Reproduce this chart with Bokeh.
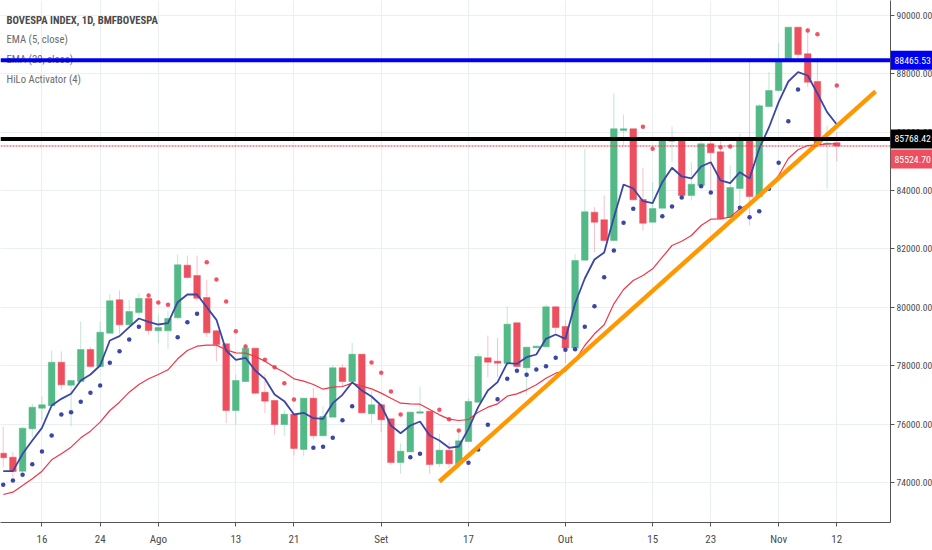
from bokeh.plotting import figure
from bokeh.models import Label, Span, FixedTicker, Range1d, ColumnDataSource
from bokeh.embed import file_html
from bokeh.resources import INLINE

opens = [75004,74867,74387,75840,76545,76627,78120,77332,77459,78555,77973,79114,80258,79401,79823,80302,79195,79195,79641,81443,81090,80336,79195,78751,76466,77459,78600,77093,76809,75986,76339,75131,76888,75600,76237,77929,77459,78394,76353,76662,76182,74685,75051,76374,76442,74641,75106,74641,75404,76750,78270,78155,78076,79470,77929,78614,78648,80018,79343,78607,81614,83258,82998,82289,86056,86114,83693,82915,83395,85690,85748,83830,84172,85600,85326,83087,84070,85738,83796,86878,87426,88419,89594,88683,87734,85587,85635]
highs = [75918,75038,75900,76706,76945,78521,78487,77494,79514,78634,79514,80463,80576,80258,80497,80463,79744,79891,81809,81775,81775,80943,79206,78751,77689,78751,78600,77699,76809,76490,76339,76888,77244,76614,78007,78042,78785,78394,77151,76672,76182,75346,76432,77288,76442,75668,75380,75722,76888,78428,79034,78955,80028,79480,78634,78692,80097,80028,79549,81809,85429,83429,83830,87334,86604,86114,84779,84285,85738,86193,85748,84970,85806,85806,85806,84857,85943,88454,86970,88053,89046,89594,89594,89574,88546,86227,85998]
lows = [74514,74182,74350,75552,76124,76569,77175,75918,77415,77949,77949,79093,79093,79367,79720,79059,78771,78566,79607,80977,80234,78977,78155,76031,75976,77435,77037,76374,75644,75600,74925,74890,75484,75576,76237,77264,77435,76363,76031,75722,74606,74298,75028,76363,74298,74525,74490,74469,75380,76716,77606,77606,78066,77949,77014,78600,78634,79114,78086,78590,81604,81888,82265,82265,85542,83669,82631,82915,83385,84970,83806,83659,84149,84001,83008,83066,83374,82803,83772,86844,87402,88419,88419,87539,85508,84059,85004]
closes = [74846,74377,75860,76580,76662,78120,77346,77494,78555,77973,79148,80223,79401,79857,80302,79206,79309,79617,81456,81021,80312,79127,78727,76466,77494,78600,77058,76785,75986,76339,75165,76888,75600,76261,77929,77459,78394,76387,76662,76147,74685,75072,76408,76422,74616,75106,74641,75428,76774,78315,78120,78086,79422,77973,78634,78668,80018,79309,78607,81604,83271,82915,82289,86114,86114,83683,82881,83385,85738,85748,83830,84217,85600,85292,83032,84104,85724,83796,86902,87426,88454,89594,88659,87710,85576,85621,85524.7]

ema5 = [74388,74388,74982,75438,75872,76637,76865,77037,77493,77699,78007,78863,79012,79320,79617,79503,79411,79457,80176,80439,80439,80005,79571,78521,78201,78270,77836,77551,77014,76786,76329,76386,76203,76180,76717,77003,77436,77151,76945,76637,75952,75689,75952,76089,75610,75438,75187,75233,75838,76580,77151,77436,78087,78064,78293,78384,78920,79069,78920,80131,80987,81638,81878,83076,84207,84070,83635,83566,84285,84779,84481,84412,84823,84970,84344,84251,84628,84412,85440,86159,87025,87734,88053,87940,87323,86683,86262]
ema20 = [73589,73669,73897,74126,74388,74776,74982,75210,75530,75758,76066,76466,76751,77094,77356,77551,77699,77859,78236,78521,78669,78704,78704,78544,78441,78430,78315,78156,77950,77779,77551,77471,77356,77196,77265,77288,77402,77299,77208,77060,76888,76717,76694,76682,76500,76317,76169,76123,76158,76409,76580,76694,76957,77037,77174,77345,77573,77744,77813,78178,78692,79093,79401,80120,80610,80918,81090,81319,81717,82117,82265,82460,82803,83018,83032,83087,83374,83546,83796,84114,84515,85097,85395,85542,85566,85600,85600]

hilo_index_up = [0,1,2,3,4,5,6,7,8,9,10,11,12,13,14,18,19,20,32,33,34,35,36,42,43,48,49,50,51,52,53,54,55,56,57,58,59,60,61,62,63,64,65,68,69,70,72,73,76,77,78,79,80,81,82]
hilo_up = [73920,74068,74262,74628,75062,75610,76329,76409,76763,77071,77322,78098,78498,78898,79332,78978,79491,79777,75187,75221,75530,76135,76614,74868,74982,74673,75130,75975,76854,77550,77824,77687,77870,77984,78270,78544,78567,79331,80039,81032,81946,82893,83373,83122,83453,83761,84149,83932,83407,83088,83293,84058,84948,86376,87460]
hilo_index_down = [15,16,17,21,22,23,24,25,27,28,29,30,38,39,40,41,45,46,47,66,67,74,75,83,84,86]
hilo_down = [80405,80165,80085,81546,80953,80199,79183,78658,78201,77950,77402,76843,78110,77756,77117,76329,76489,76169,75781,86182,85428,85485,85508,89481,89354,87597]

trend_index = [45, 90]
trend_price = [74034, 87392]
level_blue = 88465.53
level_black = 85768.42
level_red = 85524.70

x_tick_index = [4,10,16,24,30,39,48,58,67,73,80,86]
x_tick_labels = ["16","24","Ago","13","21","Set","17","Out","15","23","Nov","12"]
y_ticks = [74000,76000,78000,80000,82000,84000,86000,88000,90000]
legend_lines = ["BOVESPA INDEX, 1D, BMFBOVESPA","EMA (5, close)","EMA (20, close)","HiLo Activator (4)"]

GREEN, RED = "#53b987", "#ee4f5f"
BLUE, PINK = "#3b46a5", "#f0364a"
GRID = "#e9eff3"
AXIS = "#555555"
FONT = "Roboto Condensed"

W, H, FW, FH = 932, 550, 890, 522
Y_LOW, Y_HIGH = 72630, 90508
p = figure(width=W, height=H, output_backend="svg", toolbar_location=None,
           frame_width=FW, frame_height=FH,
           x_range=Range1d(-0.279, 91.54), y_range=Range1d(Y_LOW, Y_HIGH),
           y_axis_location="right",
           min_border_left=0, min_border_top=0, min_border_right=W-FW, min_border_bottom=H-FH,
           background_fill_color="white", outline_line_color=None,
           styles={"position": "absolute", "left": "0px", "top": "0px"})

p.xgrid.ticker = FixedTicker(ticks=x_tick_index)
p.ygrid.ticker = FixedTicker(ticks=y_ticks)
p.xgrid.grid_line_color = GRID
p.ygrid.grid_line_color = GRID

p.xaxis.ticker = FixedTicker(ticks=x_tick_index)
p.xaxis.major_label_overrides = dict(zip(x_tick_index, x_tick_labels))
p.yaxis.ticker = FixedTicker(ticks=y_ticks)
p.yaxis.major_label_overrides = {v: f"{v:.2f}" for v in y_ticks}
for ax, size, stand in ((p.xaxis[0], "11px", 6), (p.yaxis[0], "9.6px", 2)):
    ax.axis_line_color = AXIS
    ax.major_tick_line_color = AXIS
    ax.minor_tick_line_color = None
    ax.major_tick_in = 0
    ax.major_tick_out = 4
    ax.major_label_text_color = "#4a4a4a"
    ax.major_label_text_font = FONT
    ax.major_label_text_font_size = size
    ax.major_label_standoff = stand

idx = list(range(len(opens)))
up = [c >= o for o, c in zip(opens, closes)]
src = ColumnDataSource(dict(
    x=idx, h=highs, l=lows,
    top=[max(o, c) for o, c in zip(opens, closes)],
    bot=[min(o, c) for o, c in zip(opens, closes)],
    color=[GREEN if u else RED for u in up]))

p.segment("x", "h", "x", "l", source=src, color="color", line_width=1, line_alpha=0.35)
p.vbar("x", 0.68, "bot", "top", source=src, fill_color="color", line_color="color", line_width=0.5)
p.line(idx, ema20, color=PINK, line_width=1.2)
p.line(idx, ema5, color=BLUE, line_width=1.8)
p.scatter(hilo_index_up, hilo_up, size=4.5, color=BLUE, line_width=0)
p.scatter(hilo_index_down, hilo_down, size=4.5, color=PINK, line_width=0, alpha=0.85)

for i, t in enumerate(legend_lines):
    p.add_layout(Label(x=6, y=FH-26-i*19.7, x_units="screen", y_units="screen", text=t,
                       text_font=FONT, text_font_size="10.7px",
                       text_font_style="bold" if i == 0 else "normal",
                       text_color="#4a4a4a" if i == 0 else "#6b6b6b"))

p.add_layout(Span(location=level_red, dimension="width", line_color="#e8344a", line_width=1,
                  line_dash=[2, 1], level="overlay"))
p.add_layout(Span(location=level_black, dimension="width", line_color="#000000", line_width=4, level="overlay"))
p.add_layout(Span(location=level_blue, dimension="width", line_color="#0000f0", line_width=4, level="overlay"))
p.line(trend_index, trend_price, color="#ff9800", line_width=4.4, level="overlay")

tags = figure(width=W-FW, height=FH, output_backend="svg", toolbar_location=None,
              frame_width=W-FW, frame_height=FH,
              x_axis_location=None, y_axis_location=None,
              x_range=Range1d(0, W-FW), y_range=Range1d(Y_LOW, Y_HIGH),
              min_border_left=0, min_border_top=0, min_border_right=0, min_border_bottom=0,
              background_fill_alpha=0, border_fill_alpha=0, outline_line_color=None,
              styles={"position": "absolute", "left": f"{FW}px", "top": "0px"})
tags.grid.visible = False
PRICE_PER_PX = (Y_HIGH - Y_LOW) / FH
for v, bg, off in ((level_blue, "#0000f0", 0), (level_black, "#000000", 0), (level_red, RED, -13)):
    tags.rect(x=(W-FW)/2, y=v + off*PRICE_PER_PX, width=W-FW, height=19, height_units="screen",
              fill_color=bg, line_color=None)
    tags.add_layout(Label(x=4, y=v, x_units="screen", y_units="data", y_offset=off, text=f"{v:.2f}", text_color="white",
                          text_font=FONT, text_font_size="9.8px", text_baseline="middle", text_align="left"))

open("out.html", "w").write(file_html((p, tags), INLINE))
